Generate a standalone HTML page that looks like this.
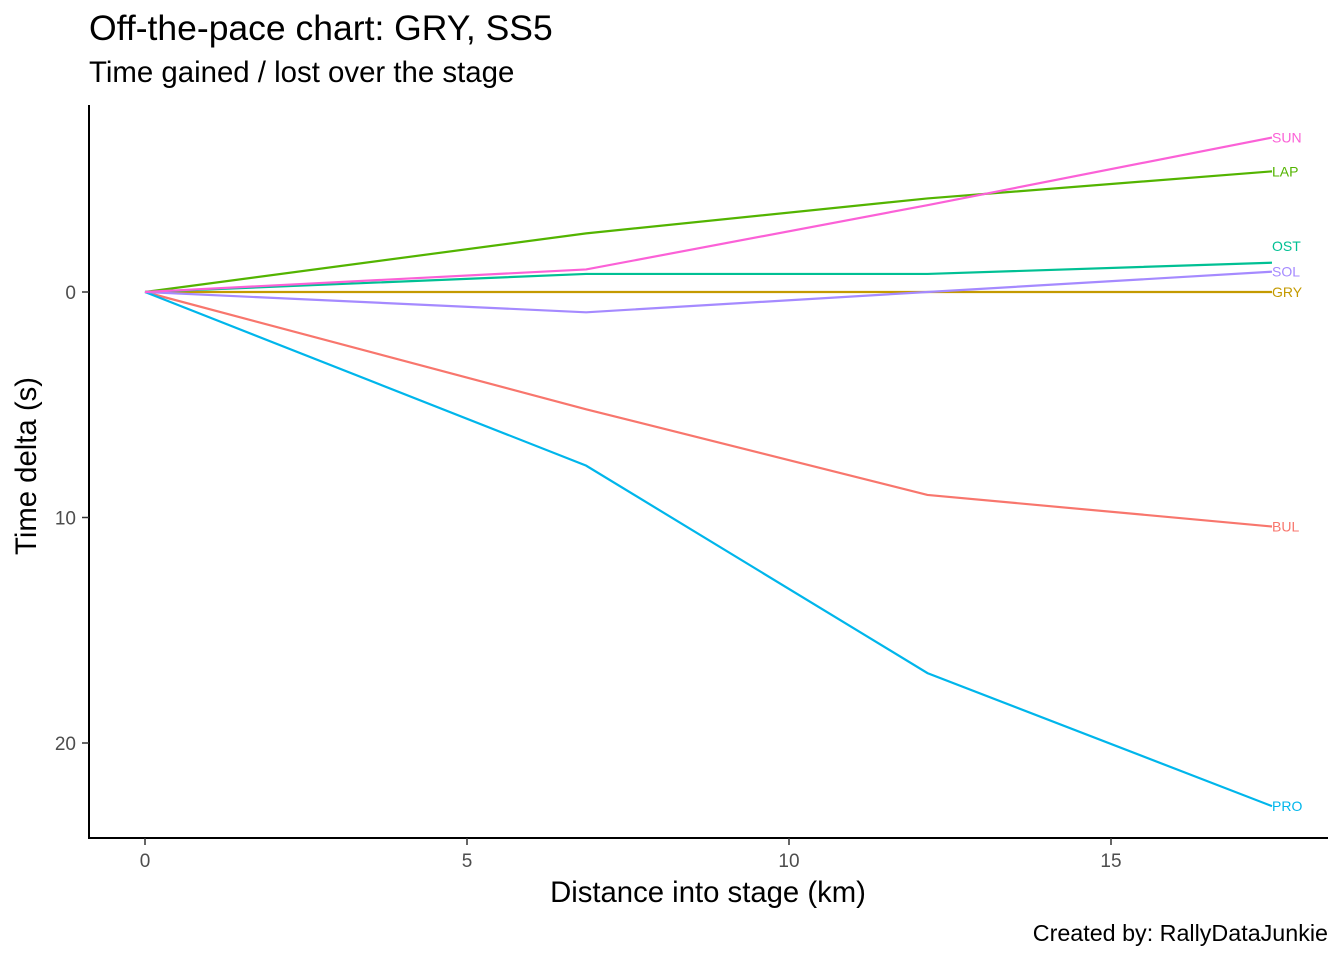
<!DOCTYPE html>
<html><head><meta charset="utf-8"><style>
body{margin:0;background:#fff;}
svg{display:block;font-family:"Liberation Sans",Arial,sans-serif;}
</style></head><body>
<svg id="chart" width="1344" height="960">
<text x="89" y="40" font-size="29" fill="#000" style="font-size:35.5px">Off-the-pace chart: GRY, SS5</text>
<text x="89" y="82" font-size="29" fill="#000" style="font-size:29.4px">Time gained / lost over the stage</text>
<g id="axes"></g>
<g id="series"></g>
<text x="708" y="902" text-anchor="middle" style="font-size:29.3px">Distance into stage (km)</text>
<text transform="translate(36,466) rotate(-90)" text-anchor="middle" style="font-size:29.3px">Time delta (s)</text>
<text x="1328" y="941" text-anchor="end" style="font-size:23.3px">Created by: RallyDataJunkie</text>
</svg>
<script>
const distances=[0,6.85,12.15,17.5];
const drivers=["BUL","GRY","LAP","OST","PRO","SOL","SUN"];
const colors=["#F8766D","#C49A00","#53B400","#00C094","#00B6EB","#A58AFF","#FB61D7"];
const BUL=[0,5.2,9.0,10.4];
const GRY=[0,0,0,0];
const LAP=[0,-2.6,-4.15,-5.35];
const OST=[0,-0.8,-0.8,-1.3];
const PRO=[0,7.7,16.9,22.8];
const SOL=[0,0.9,0,-0.9];
const SUN=[0,-1.0,-3.85,-6.85];
const seriesValues=[BUL,GRY,LAP,OST,PRO,SOL,SUN];
const labelNudge=[0,0,0,-0.75,0,0,0];
const xTicks=[0,5,10,15];
const yTicks=[0,10,20];

const ns="http://www.w3.org/2000/svg";
const X=v=>145+v*64.4;
const Y=v=>292+v*22.55;
function mk(tag,attrs,parent){const e=document.createElementNS(ns,tag);for(const k in attrs)e.setAttribute(k,attrs[k]);parent.appendChild(e);return e;}
const ax=document.getElementById('axes');
const yl=mk('line',{x1:89,y1:105,x2:89,y2:838,stroke:'#000','stroke-width':2},ax);


const xl=mk('line',{x1:88,y1:838,x2:1328,y2:838,stroke:'#000','stroke-width':2},ax);


xTicks.forEach(t=>{
  const l=mk('line',{x1:X(t),y1:838,x2:X(t),y2:845,stroke:'#333','stroke-width':1.5},ax);
  
  
  const tx=mk('text',{x:X(t),y:867,'font-size':19,fill:'#4d4d4d','text-anchor':'middle'},ax);
  tx.textContent=t;
  
  
});
yTicks.forEach(t=>{
  const l=mk('line',{x1:82,y1:Y(t),x2:89,y2:Y(t),stroke:'#333','stroke-width':1.5},ax);
  
  
  const tx=mk('text',{x:76,y:Y(t)+7,'font-size':19,fill:'#4d4d4d','text-anchor':'end'},ax);
  tx.textContent=t;
  
  
});
const sg=document.getElementById('series');
drivers.forEach((d,i)=>{
  const vals=seriesValues[i];
  const pts=vals.map((v,j)=>X(distances[j])+','+Y(v)).join(' ');
  const pl=mk('polyline',{points:pts,fill:'none',stroke:colors[i],'stroke-width':2.2},sg);
  
  
  const last=vals.length-1;
  const lb=mk('text',{x:X(distances[last]),y:Y(vals[last]+labelNudge[i])+5,'font-size':14,fill:colors[i]},sg);
  lb.textContent=d;
  
  
});
</script>
</body></html>
